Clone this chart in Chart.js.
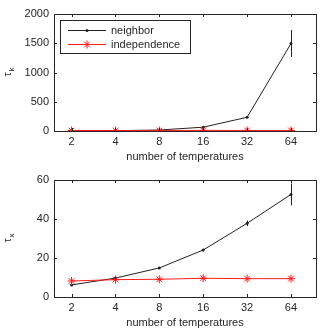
<!DOCTYPE html>
<html>
<head>
<meta charset="utf-8">
<script src="https://cdn.jsdelivr.net/npm/chart.js@4.4.1/dist/chart.umd.min.js"></script>
<style>
  html, body { margin: 0; padding: 0; background: #fff; }
  .panel { position: absolute; left: 0; width: 327px; height: 166px; }
</style>
</head>
<body>
<div class="panel" style="top:0"><canvas id="tauK"></canvas></div>
<div class="panel" style="top:166px"><canvas id="tauX"></canvas></div>
<script>
// ─── Data ──────────────────────────────────────────────────────────────────────
const temps = [2, 4, 8, 16, 32, 64];

const tauKNeighbor    = [2, 5, 17, 65, 235, 1495];
const tauKNeighborErr = [0, 0, 2, 5, 12, 230];
const tauKIndep       = [8, 9, 9, 10, 9, 9];
const tauKTicks       = [0, 500, 1000, 1500, 2000];

const tauXNeighbor    = [6.2, 9.7, 14.9, 24.1, 37.8, 52.6];
const tauXNeighborErr = [0.3, 0.4, 0.5, 0.6, 1.4, 5.6];
const tauXIndep       = [8.2, 8.9, 9.1, 9.6, 9.4, 9.4];
const tauXTicks       = [0, 20, 40, 60];

const FONT = 'Liberation Sans, Arial, sans-serif';
const TXT = '#262626';

// ─── Plugins ───────────────────────────────────────────────────────────────────

// box round the plot area with inward tick marks on all four sides
const boxPlugin = {
  id: 'box',
  afterDraw(chart) {
    const { ctx, chartArea: a, scales } = chart;
    ctx.save();
    ctx.strokeStyle = TXT;
    ctx.lineWidth = 1;
    ctx.strokeRect(Math.round(a.left) + 0.5, Math.round(a.top) + 0.5,
      Math.round(a.right - a.left), Math.round(a.bottom - a.top));
    const len = 3;
    ctx.beginPath();
    scales.x.ticks.forEach(t => {
      const x = Math.round(scales.x.getPixelForValue(t.value)) + 0.5;
      ctx.moveTo(x, a.bottom); ctx.lineTo(x, a.bottom - len);
      ctx.moveTo(x, a.top); ctx.lineTo(x, a.top + len);
    });
    scales.y.ticks.forEach(t => {
      const y = Math.round(scales.y.getPixelForValue(t.value)) + 0.5;
      ctx.moveTo(a.left, y); ctx.lineTo(a.left + len, y);
      ctx.moveTo(a.right, y); ctx.lineTo(a.right - len, y);
    });
    ctx.stroke();
    ctx.restore();
  },
};

// vertical error bars from dataset.errors
const errorBarPlugin = {
  id: 'errorBars',
  afterDatasetsDraw(chart) {
    const { ctx, scales } = chart;
    chart.data.datasets.forEach((ds, i) => {
      if (!ds.errors) return;
      const meta = chart.getDatasetMeta(i);
      ctx.save();
      ctx.strokeStyle = ds.borderColor;
      ctx.lineWidth = 1;
      meta.data.forEach((pt, j) => {
        const e = ds.errors[j];
        if (!e) return;
        const v = ds.data[j].y;
        const x = Math.round(pt.x) + 0.5;
        ctx.beginPath();
        ctx.moveTo(x, scales.y.getPixelForValue(v - e));
        ctx.lineTo(x, scales.y.getPixelForValue(v + e));
        ctx.stroke();
      });
      ctx.restore();
    });
  },
};

// rotated y label with subscript, like τ_k
const yLabelPlugin = {
  id: 'yLabel',
  afterDraw(chart, args, opts) {
    const { ctx, chartArea: a } = chart;
    ctx.save();
    ctx.translate(11, (a.top + a.bottom) / 2);
    ctx.rotate(-Math.PI / 2);
    ctx.fillStyle = TXT;
    ctx.textBaseline = 'alphabetic';
    ctx.font = '11px ' + FONT;
    ctx.fillText('τ', -4, 0);
    ctx.font = '8px ' + FONT;
    ctx.fillText(opts.sub, 1, 3);
    ctx.restore();
  },
};

// legend box inside the top plot
const legendBoxPlugin = {
  id: 'legendBox',
  afterDraw(chart, args, opts) {
    if (!opts.show) return;
    const { ctx, chartArea: a } = chart;
    const x0 = a.left + 6, y0 = a.top + 6, w = 130, h = 33;
    ctx.save();
    ctx.fillStyle = '#fff';
    ctx.fillRect(x0, y0, w, h);
    ctx.strokeStyle = TXT;
    ctx.lineWidth = 1;
    ctx.strokeRect(x0 + 0.5, y0 + 0.5, w, h);
    chart.data.datasets.forEach((ds, i) => {
      const y = Math.round(y0 + 10 + i * 14) + 0.5;
      ctx.strokeStyle = ds.borderColor;
      ctx.fillStyle = ds.borderColor;
      ctx.lineWidth = 1;
      ctx.beginPath();
      ctx.moveTo(x0 + 8, y); ctx.lineTo(x0 + 46, y);
      ctx.stroke();
      Chart.helpers.drawPoint(ctx, {
        pointStyle: ds.pointStyle, radius: ds.pointRadius,
        borderWidth: ds.pointBorderWidth, rotation: 0,
      }, x0 + 27, y);
      ctx.fillStyle = TXT;
      ctx.font = '11px ' + FONT;
      ctx.textBaseline = 'middle';
      ctx.fillText(ds.label, x0 + 51, y);
    });
    ctx.restore();
  },
};

// ─── Chart builder ─────────────────────────────────────────────────────────────

function makeChart(id, neighbor, neighborErr, indep, yTicks, sub, showLegend) {
  const toXY = arr => temps.map((t, i) => ({ x: t, y: arr[i] }));
  return new Chart(document.getElementById(id), {
    type: 'line',
    data: {
      datasets: [
        {
          label: 'neighbor',
          data: toXY(neighbor),
          errors: neighborErr,
          borderColor: '#222222',
          backgroundColor: '#222222',
          borderWidth: 1,
          pointStyle: 'circle',
          pointRadius: 1.5,
          pointBorderWidth: 0,
          order: 1,
        },
        {
          label: 'independence',
          data: toXY(indep),
          borderColor: '#ff1a1a',
          backgroundColor: '#ff1a1a',
          borderWidth: 1,
          pointStyle: 'star',
          pointRadius: 4,
          pointBorderWidth: 1,
          order: 0,
        },
      ],
    },
    options: {
      responsive: true,
      maintainAspectRatio: false,
      animation: false,
      events: [],
      layout: { padding: { top: 14, right: 11, left: 0, bottom: 0 } },
      plugins: {
        legend: { display: false },
        tooltip: { enabled: false },
        yLabel: { sub },
        legendBox: { show: showLegend },
      },
      scales: {
        x: {
          type: 'logarithmic',
          min: Math.pow(2, 0.6),
          max: Math.pow(2, 6.57),
          afterBuildTicks: s => { s.ticks = temps.map(v => ({ value: v })); },
          afterFit: s => { s.height = 35; },
          grid: { display: false, drawTicks: false },
          border: { display: false },
          ticks: {
            callback: v => String(v),
            font: { family: FONT, size: 11 },
            color: TXT,
            padding: 4,
            maxRotation: 0,
          },
          title: {
            display: true,
            text: 'number of temperatures',
            font: { family: FONT, size: 11 },
            color: TXT,
            padding: { top: 0, bottom: 2 },
          },
        },
        y: {
          min: yTicks[0],
          max: yTicks[yTicks.length - 1],
          afterBuildTicks: s => { s.ticks = yTicks.map(v => ({ value: v })); },
          afterFit: s => { s.width = 54; },
          grid: { display: false, drawTicks: false },
          border: { display: false },
          ticks: {
            callback: v => String(v),
            font: { family: FONT, size: 11 },
            color: TXT,
            padding: 5,
          },
        },
      },
    },
    plugins: [errorBarPlugin, boxPlugin, yLabelPlugin, legendBoxPlugin],
  });
}

makeChart('tauK', tauKNeighbor, tauKNeighborErr, tauKIndep, tauKTicks, 'k', true);
makeChart('tauX', tauXNeighbor, tauXNeighborErr, tauXIndep, tauXTicks, 'x', false);
</script>
</body>
</html>
